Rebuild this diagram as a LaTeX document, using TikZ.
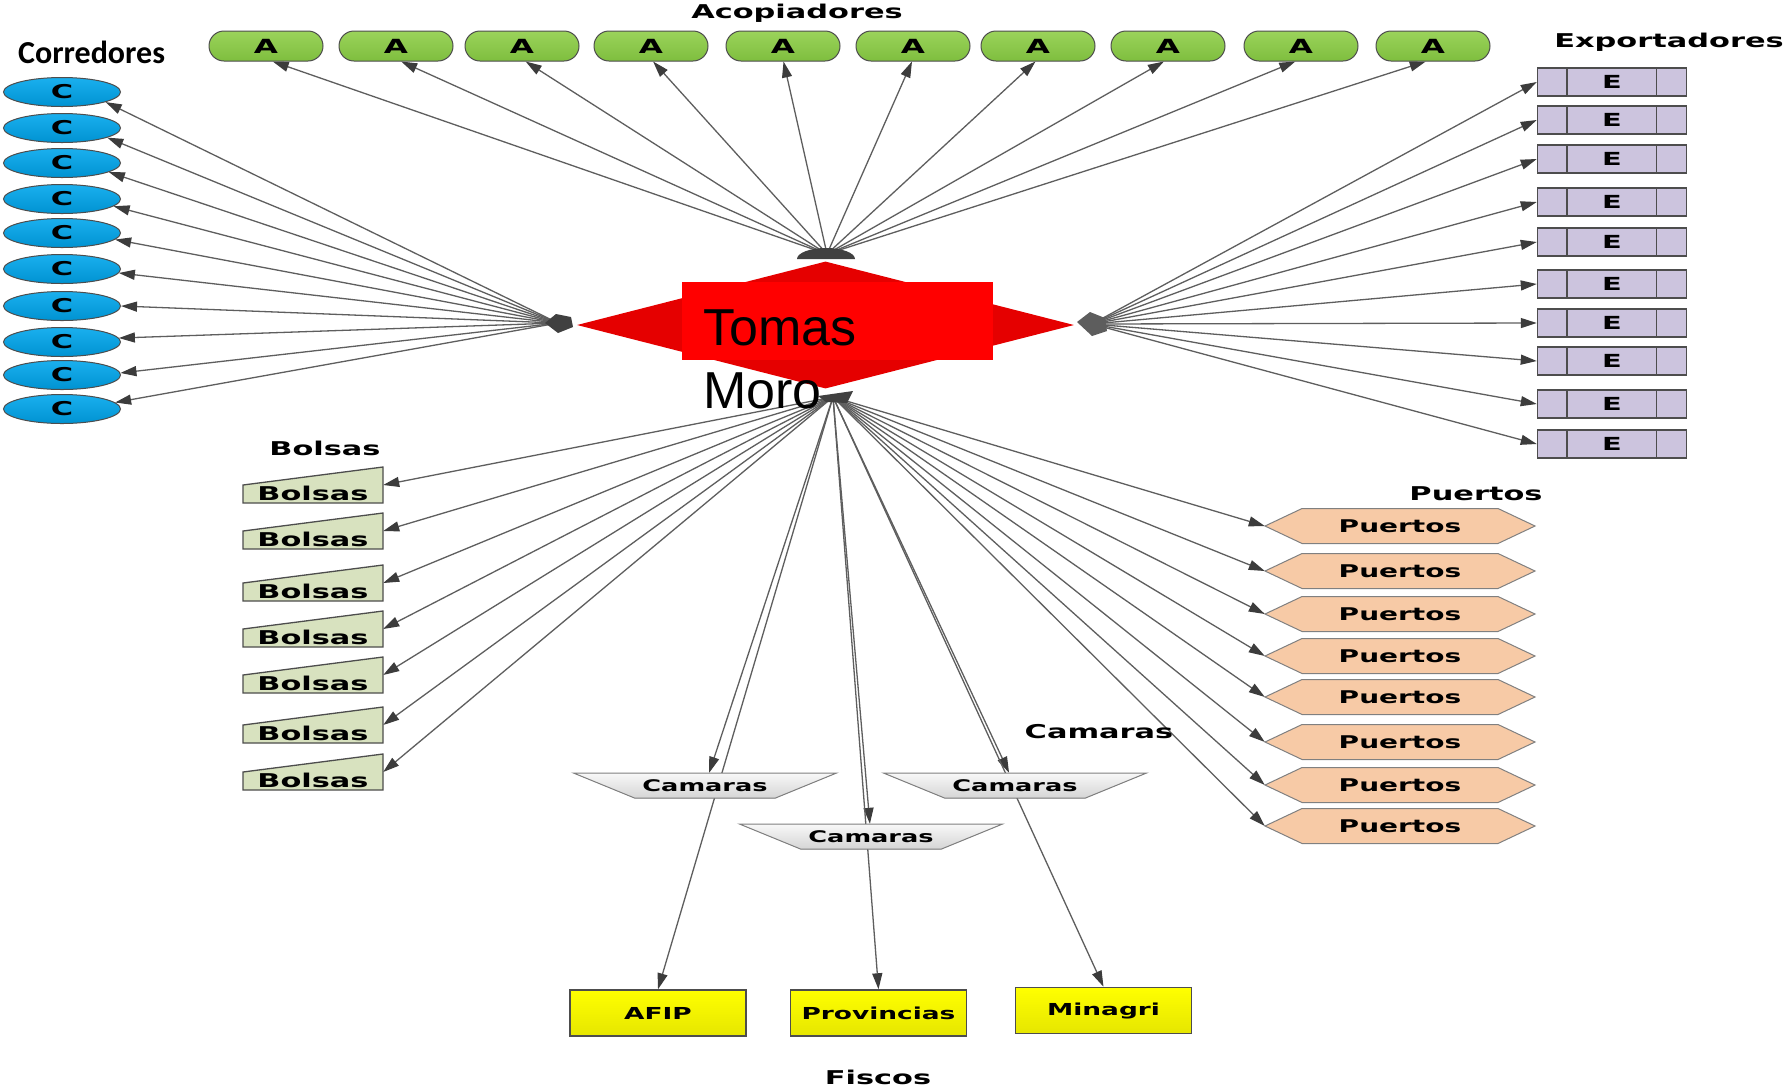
\documentclass[tikz,border=0pt]{standalone}
\usepackage{fontspec}
\setmainfont{Liberation Sans}
\newfontface\wf[FakeStretch=1.6]{DejaVu Sans Bold}
\newfontfamily\cbf{Carlito}
\usetikzlibrary{shapes.geometric,shapes.misc,arrows.meta}
\pgfdeclarelayer{bg}
\pgfsetlayers{bg,main}
\definecolor{linec}{HTML}{5E5E5E}
\definecolor{tipc}{HTML}{3C3C3C}
\definecolor{bordc}{HTML}{4D4D4D}
\definecolor{agreenT}{HTML}{9BD35B}
\definecolor{agreenB}{HTML}{7EBE3E}
\definecolor{cblueT}{HTML}{1AB0EE}
\definecolor{cblueB}{HTML}{0092D2}
\definecolor{elav}{HTML}{CCC4DE}
\definecolor{bolsaf}{HTML}{D8E2BF}
\definecolor{puertof}{HTML}{F7CAA6}
\definecolor{camT}{HTML}{F8F8F8}
\definecolor{camB}{HTML}{D5D5D5}
\definecolor{yelT}{HTML}{FFFF00}
\definecolor{yelB}{HTML}{E6E600}
\definecolor{redD}{HTML}{E50000}
\definecolor{hubc}{HTML}{404040}
\begin{document}
\begin{tikzpicture}[x=1pt,y=-1pt,
  lbl/.style={font=\fontsize{19}{21}\selectfont\wf, inner sep=0},
  txt/.style={font=\fontsize{16.5}{18}\selectfont\wf},
  con/.style={draw=linec, line width=1.3pt, -{Triangle[length=16pt,width=10pt,color=tipc]}},
  anode/.style={rounded rectangle, draw=bordc, line width=1pt, top color=agreenT, bottom color=agreenB, minimum width=114pt, minimum height=30pt, inner sep=0, font=\fontsize{19.5}{20}\selectfont\wf},
  cnode/.style={ellipse, draw=bordc, line width=1pt, top color=cblueT, bottom color=cblueB, minimum width=117pt, minimum height=29pt, inner sep=0, font=\fontsize{19}{20}\selectfont\wf},
  enode/.style={rectangle, draw=bordc, line width=1.5pt, fill=elav, minimum width=149pt, minimum height=28pt, inner sep=0, font=\fontsize{18}{19}\selectfont\wf},
  ediv/.style={draw=bordc, line width=1.5pt},
  bshape/.style={fill=bolsaf, draw=bordc, line width=1.3pt},
  bnode/.style={rectangle, minimum width=140pt, minimum height=36pt, inner sep=0},
  btxt/.style={inner sep=0, font=\fontsize{19}{20}\selectfont\wf},
  pshape/.style={fill=puertof, draw=gray, line width=1pt},
  pnode/.style={rectangle, minimum width=270pt, minimum height=35pt, inner sep=0, font=\fontsize{17.5}{19}\selectfont\wf},
  kshape/.style={top color=camT, bottom color=camB, draw=gray, line width=1pt},
  knode/.style={rectangle, minimum width=263pt, minimum height=25pt, inner sep=0, font=\fontsize{16}{18}\selectfont\wf},
  fnode/.style={rectangle, draw=bordc, line width=1.5pt, top color=yelT, bottom color=yelB, minimum width=176pt, minimum height=46pt, inner sep=0, txt},
]
\useasboundingbox (0,0) rectangle (1790,1088);
\begin{pgfonlayer}{bg}
\fill[white] (0,0) rectangle (1790,1088);
\end{pgfonlayer}

% hubs
\coordinate (hT) at (827,254);
\coordinate (hL) at (558,323);
\coordinate (hR) at (1092,324);
\coordinate (hB) at (833,397);

% central node
\node[diamond, fill=redD, minimum width=497pt, minimum height=127pt, inner sep=0] (tm) at (825.5,325) {};
\node[rectangle, fill=red, minimum width=311pt, minimum height=78pt, inner sep=0] (tmr) at (837.5,321) {};
\fill[hubc] (797,259) arc[start angle=180,end angle=0,x radius=29pt,y radius=11pt] -- cycle;
\fill[hubc] (545,323) -- (556,314) -- (571,317) -- (573,327) -- (558,333) -- cycle;
\fill[hubc!85] (1077,322) -- (1090,312) -- (1105,318) -- (1107,331) -- (1092,336) -- cycle;
\fill[hubc] (818,396) -- (853,391) -- (847,403) -- (826,402) -- cycle;
\node[anchor=base west, inner sep=0, font=\fontsize{52}{60}\selectfont] (tm1) at (703,345) {Tomas};
\node[anchor=base west, inner sep=0, font=\fontsize{52}{60}\selectfont] (tm2) at (703,408) {Moro};

% Acopiadores
\foreach \i/\x in {1/266,2/396,3/522,4/651,5/783,6/913,7/1038,8/1168,9/1301,10/1433}
  \node[anode] (a\i) at (\x,46) {A};

% Corredores
\foreach \i/\y in {1/92,2/128,3/163,4/199,5/233,6/269,7/306,8/342,9/375,10/409}
  \node[cnode] (c\i) at (62,\y) {C};

% Exportadores
\foreach \i/\y in {1/82,2/120,3/159,4/202,5/242,6/284,7/323,8/361,9/404,10/444} {
  \node[enode] (e\i) at (1612,\y) {E};
  \draw[ediv] ([xshift=30pt]e\i.north west) -- ([xshift=30pt]e\i.south west);
  \draw[ediv] ([xshift=-31pt]e\i.north east) -- ([xshift=-31pt]e\i.south east);
}

% Bolsas
\foreach \i/\yb in {1/503,2/549,3/601,4/647,5/693,6/743,7/790} {
  \filldraw[bshape] (243,\yb) -- (383,\yb) -- (383,\yb-36) -- (243,\yb-18) -- cycle;
  \node[bnode] (b\i) at (313,\yb-18) {};
  \node[btxt] (bt\i) at (313,\yb-10) {Bolsas};
}

% Puertos
\foreach \i/\y in {1/526,2/571,3/614,4/656,5/697,6/742,7/785,8/826} {
  \filldraw[pshape] (1265,\y) -- (1302,\y-17.5) -- (1498,\y-17.5) -- (1535,\y) -- (1498,\y+17.5) -- (1302,\y+17.5) -- cycle;
  \node[pnode] (p\i) at (1400,\y) {Puertos};
}

% Camaras
\foreach \n/\x/\y in {k1/705/773,k2/871/824,k3/1015/773} {
  \filldraw[kshape] (\x-131.5,\y) -- (\x+131.5,\y) -- (\x+70.5,\y+25) -- (\x-70.5,\y+25) -- cycle;
  \node[knode] (\n) at (\x,\y+12.5) {Camaras};
}

% Fiscos
\node[fnode] (af) at (658,1013) {AFIP};
\node[fnode] (pv) at (878.5,1013) {Provincias};
\node[fnode] (mi) at (1103.5,1010.5) {Minagri};

% labels
\node[lbl] (lA) at (797,13) {Acopiadores};
\node[lbl] (lE) at (1669,42) {Exportadores};
\node[font=\fontsize{32}{34}\selectfont\cbf\bfseries, anchor=west, inner sep=0] (lC) at (18,52) {Corredores};
\node[lbl] (lB) at (325,448) {Bolsas};
\node[lbl] (lP) at (1476,494) {Puertos};
\node[lbl] (lK) at (1099,732) {Camaras};
\node[lbl] (lF) at (878,1077) {Fiscos};

% connectors
\begin{pgfonlayer}{bg}
\foreach \i/\x in {1/266,2/396,3/522,4/651,5/783,6/913,7/1038,8/1168,9/1301,10/1433}
  \draw[con] (hT) -- ([xshift={(827-\x)*0.012}]a\i.south);
\foreach \i/\a in {1/-13,2/-12,3/-11,4/-8,5/-7,6/-4,7/0,8/4,9/2,10/7}
  \draw[con] (hL) -- (c\i.\a);
\foreach \i in {1,...,10}
  \draw[con] (hR) -- (e\i.west);
\foreach \i in {1,...,7} \draw[con] (hB) -- (b\i.east);
\foreach \i in {1,...,8} \draw[con] (hB) -- (p\i.west);
\draw[con] (hB) -- (k1);
\draw[con] (hB) -- (af.north);
\draw[con] (hB) -- (k2);
\draw[con] (hB) -- (pv.north);
\draw[con] (hB) -- (k3);
\draw[con] (hB) -- (mi.north);
\end{pgfonlayer}
\end{tikzpicture}
\end{document}
